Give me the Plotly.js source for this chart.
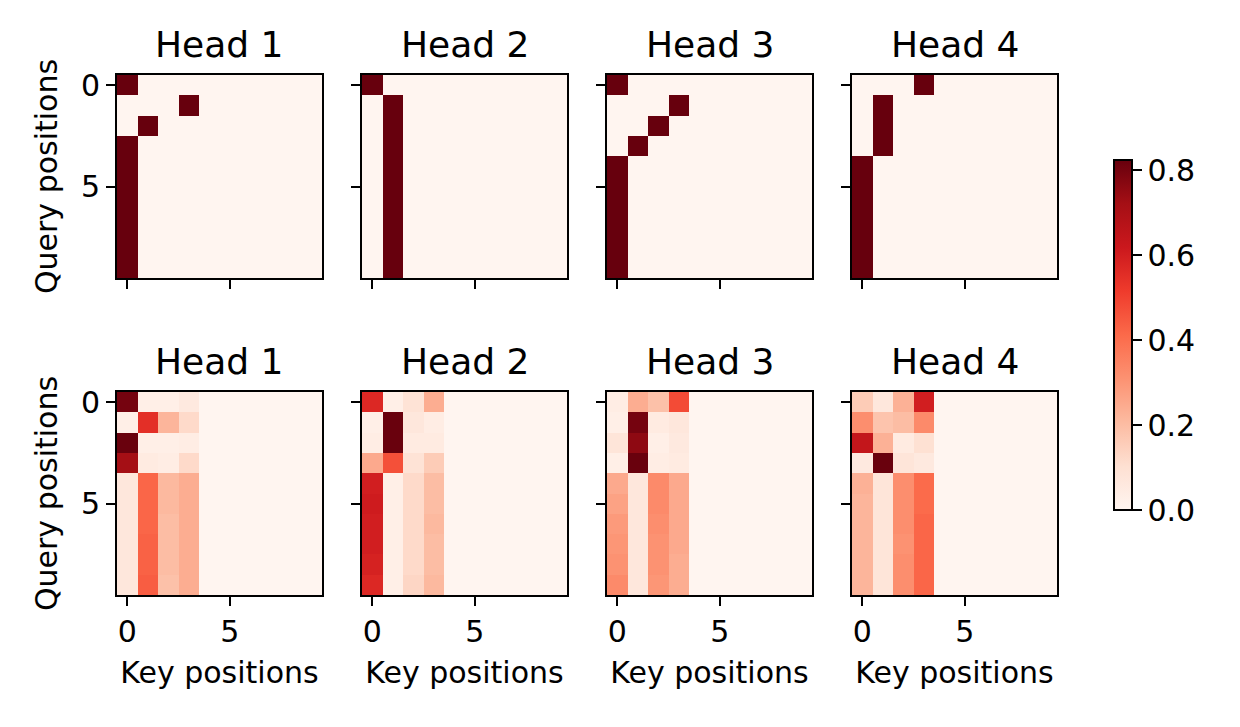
<!DOCTYPE html>
<html>
<head>
<meta charset="utf-8">
<script src="https://cdn.plot.ly/plotly-3.0.1.min.js"></script>
<style>html,body{margin:0;padding:0;background:#fff;}#chart{width:1240px;height:727px;}</style>
</head>
<body>
<div id="chart"></div>
<script>
// ---- data ----
const keyPositions = [0,1,2,3,4,5,6,7,8,9];
const queryPositions = [0,1,2,3,4,5,6,7,8,9];
const headTitles = ["Head 1","Head 2","Head 3","Head 4"];
const tickVals = [0,5];
const colorTicks = [0,0.2,0.4,0.6,0.8];
const colorTickText = ["0.0","0.2","0.4","0.6","0.8"];

// top row (first set of attention weights)
const topHead1 = [
 [1,0,0,0,0,0,0,0,0,0],
 [0,0,0,1,0,0,0,0,0,0],
 [0,1,0,0,0,0,0,0,0,0],
 [1,0,0,0,0,0,0,0,0,0],
 [1,0,0,0,0,0,0,0,0,0],
 [1,0,0,0,0,0,0,0,0,0],
 [1,0,0,0,0,0,0,0,0,0],
 [1,0,0,0,0,0,0,0,0,0],
 [1,0,0,0,0,0,0,0,0,0],
 [1,0,0,0,0,0,0,0,0,0]];
const topHead2 = [
 [1,0,0,0,0,0,0,0,0,0],
 [0,1,0,0,0,0,0,0,0,0],
 [0,1,0,0,0,0,0,0,0,0],
 [0,1,0,0,0,0,0,0,0,0],
 [0,1,0,0,0,0,0,0,0,0],
 [0,1,0,0,0,0,0,0,0,0],
 [0,1,0,0,0,0,0,0,0,0],
 [0,1,0,0,0,0,0,0,0,0],
 [0,1,0,0,0,0,0,0,0,0],
 [0,1,0,0,0,0,0,0,0,0]];
const topHead3 = [
 [1,0,0,0,0,0,0,0,0,0],
 [0,0,0,1,0,0,0,0,0,0],
 [0,0,1,0,0,0,0,0,0,0],
 [0,1,0,0,0,0,0,0,0,0],
 [1,0,0,0,0,0,0,0,0,0],
 [1,0,0,0,0,0,0,0,0,0],
 [1,0,0,0,0,0,0,0,0,0],
 [1,0,0,0,0,0,0,0,0,0],
 [1,0,0,0,0,0,0,0,0,0],
 [1,0,0,0,0,0,0,0,0,0]];
const topHead4 = [
 [0,0,0,1,0,0,0,0,0,0],
 [0,1,0,0,0,0,0,0,0,0],
 [0,1,0,0,0,0,0,0,0,0],
 [0,1,0,0,0,0,0,0,0,0],
 [1,0,0,0,0,0,0,0,0,0],
 [1,0,0,0,0,0,0,0,0,0],
 [1,0,0,0,0,0,0,0,0,0],
 [1,0,0,0,0,0,0,0,0,0],
 [1,0,0,0,0,0,0,0,0,0],
 [1,0,0,0,0,0,0,0,0,0]];

// bottom row (second set of attention weights)
const bottomHead1 = [
 [0.80,0.03,0.03,0.06,0,0,0,0,0,0],
 [0.03,0.55,0.22,0.12,0,0,0,0,0,0],
 [0.82,0.03,0.03,0.04,0,0,0,0,0,0],
 [0.72,0.05,0.04,0.12,0,0,0,0,0,0],
 [0.07,0.42,0.21,0.24,0,0,0,0,0,0],
 [0.07,0.42,0.21,0.24,0,0,0,0,0,0],
 [0.07,0.42,0.20,0.24,0,0,0,0,0,0],
 [0.07,0.43,0.20,0.24,0,0,0,0,0,0],
 [0.07,0.43,0.20,0.24,0,0,0,0,0,0],
 [0.07,0.44,0.19,0.24,0,0,0,0,0,0]];
const bottomHead2 = [
 [0.57,0.03,0.09,0.24,0,0,0,0,0,0],
 [0.03,0.82,0.07,0.04,0,0,0,0,0,0],
 [0.04,0.82,0.05,0.05,0,0,0,0,0,0],
 [0.25,0.47,0.09,0.16,0,0,0,0,0,0],
 [0.60,0.03,0.12,0.20,0,0,0,0,0,0],
 [0.61,0.03,0.12,0.20,0,0,0,0,0,0],
 [0.60,0.03,0.12,0.21,0,0,0,0,0,0],
 [0.60,0.03,0.12,0.20,0,0,0,0,0,0],
 [0.59,0.03,0.12,0.20,0,0,0,0,0,0],
 [0.57,0.03,0.13,0.21,0,0,0,0,0,0]];
const bottomHead3 = [
 [0.04,0.24,0.19,0.48,0,0,0,0,0,0],
 [0.03,0.80,0.05,0.07,0,0,0,0,0,0],
 [0.08,0.76,0.03,0.06,0,0,0,0,0,0],
 [0.03,0.82,0.04,0.05,0,0,0,0,0,0],
 [0.25,0.07,0.33,0.25,0,0,0,0,0,0],
 [0.27,0.07,0.33,0.25,0,0,0,0,0,0],
 [0.29,0.07,0.32,0.25,0,0,0,0,0,0],
 [0.30,0.07,0.31,0.25,0,0,0,0,0,0],
 [0.31,0.07,0.31,0.24,0,0,0,0,0,0],
 [0.33,0.07,0.30,0.24,0,0,0,0,0,0]];
const bottomHead4 = [
 [0.16,0.07,0.23,0.60,0,0,0,0,0,0],
 [0.32,0.18,0.20,0.33,0,0,0,0,0,0],
 [0.64,0.23,0.05,0.10,0,0,0,0,0,0],
 [0.06,0.82,0.08,0.06,0,0,0,0,0,0],
 [0.23,0.08,0.32,0.41,0,0,0,0,0,0],
 [0.22,0.08,0.32,0.41,0,0,0,0,0,0],
 [0.22,0.08,0.32,0.42,0,0,0,0,0,0],
 [0.22,0.08,0.31,0.42,0,0,0,0,0,0],
 [0.22,0.08,0.32,0.42,0,0,0,0,0,0],
 [0.22,0.08,0.32,0.42,0,0,0,0,0,0]];

const topRow = [topHead1, topHead2, topHead3, topHead4];
const bottomRow = [bottomHead1, bottomHead2, bottomHead3, bottomHead4];

// ---- layout geometry (pixels) ----
const W = 1240, H = 727;
const colLeft = [117, 362, 607, 852];
const cellBox = 205;
const rowTop = [75, 392];
const rowBox = 203;
const FS = 30, TFS = 36;

const redsScale = [
 [0.0,'#fff5f0'],[0.125,'#fee0d2'],[0.25,'#fcbba1'],[0.375,'#fc9272'],
 [0.5,'#fb6a4a'],[0.625,'#ef3b2c'],[0.75,'#cb181d'],[0.875,'#a50f15'],[1.0,'#67000d']];

const traces = [];
const layout = {
  width: W, height: H,
  margin: {l:0, r:0, t:0, b:0},
  paper_bgcolor: '#ffffff', plot_bgcolor: '#ffffff',
  font: {family: 'DejaVu Sans', color: '#000000', size: FS},
  showlegend: false,
  coloraxis: {
    cmin: 0, cmax: 0.824,
    colorscale: redsScale,
    colorbar: {
      x: 1114 / W, xanchor: 'left', xref: 'paper',
      y: 1 - 335 / H, yanchor: 'middle', yref: 'paper',
      len: 350, lenmode: 'pixels',
      thickness: 18, thicknessmode: 'pixels',
      xpad: 0, ypad: 0,
      outlinewidth: 2, outlinecolor: '#000000',
      ticks: 'outside', ticklen: 9, tickwidth: 2, tickcolor: '#000000',
      tickvals: colorTicks, ticktext: colorTickText,
      tickfont: {size: FS, family: 'DejaVu Sans', color: '#000000'}
    }
  },
  annotations: []
};

const rows = [topRow, bottomRow];
for (let r = 0; r < 2; r++) {
  for (let c = 0; c < 4; c++) {
    const idx = r * 4 + c + 1;
    const xa = 'x' + (idx === 1 ? '' : idx);
    const ya = 'y' + (idx === 1 ? '' : idx);
    traces.push({
      type: 'heatmap',
      z: rows[r][c], x: keyPositions, y: queryPositions,
      xaxis: xa, yaxis: ya,
      coloraxis: 'coloraxis',
      hoverinfo: 'skip'
    });
    const xKey = 'xaxis' + (idx === 1 ? '' : idx);
    const yKey = 'yaxis' + (idx === 1 ? '' : idx);
    const x0 = colLeft[c] / W, x1 = (colLeft[c] + cellBox) / W;
    const y1 = 1 - rowTop[r] / H, y0 = 1 - (rowTop[r] + rowBox) / H;
    layout[xKey] = {
      domain: [x0, x1], anchor: ya,
      range: [-0.5, 9.5], tickvals: tickVals, ticktext: tickVals.map(String),
      showticklabels: r === 1,
      ticks: 'outside', ticklen: 9, tickwidth: 2, tickcolor: '#000000',
      showline: true, linewidth: 2, linecolor: '#000000', mirror: true,
      showgrid: false, zeroline: false, fixedrange: true,
      tickfont: {size: FS, family: 'DejaVu Sans', color: '#000000'},
      title: r === 1 ? {text: 'Key positions', standoff: 14,
                        font: {size: FS, family: 'DejaVu Sans', color: '#000000'}} : {text: ''}
    };
    layout[yKey] = {
      domain: [y0, y1], anchor: xa,
      range: [9.5, -0.5], tickvals: tickVals, ticktext: tickVals.map(String),
      showticklabels: c === 0,
      ticks: 'outside', ticklen: 9, tickwidth: 2, tickcolor: '#000000',
      showline: true, linewidth: 2, linecolor: '#000000', mirror: true,
      showgrid: false, zeroline: false, fixedrange: true,
      tickfont: {size: FS, family: 'DejaVu Sans', color: '#000000'},
      title: c === 0 ? {text: 'Query positions', standoff: 14,
                        font: {size: FS, family: 'DejaVu Sans', color: '#000000'}} : {text: ''}
    };
    layout.annotations.push({
      text: headTitles[c], showarrow: false,
      xref: 'paper', yref: 'paper',
      x: (colLeft[c] + cellBox / 2) / W, xanchor: 'center',
      y: 1 - (rowTop[r] - 31) / H, yanchor: 'middle',
      font: {size: TFS, family: 'DejaVu Sans', color: '#000000'}
    });
  }
}

Plotly.newPlot('chart', traces, layout, {displayModeBar: false, staticPlot: true});
</script>
</body>
</html>
